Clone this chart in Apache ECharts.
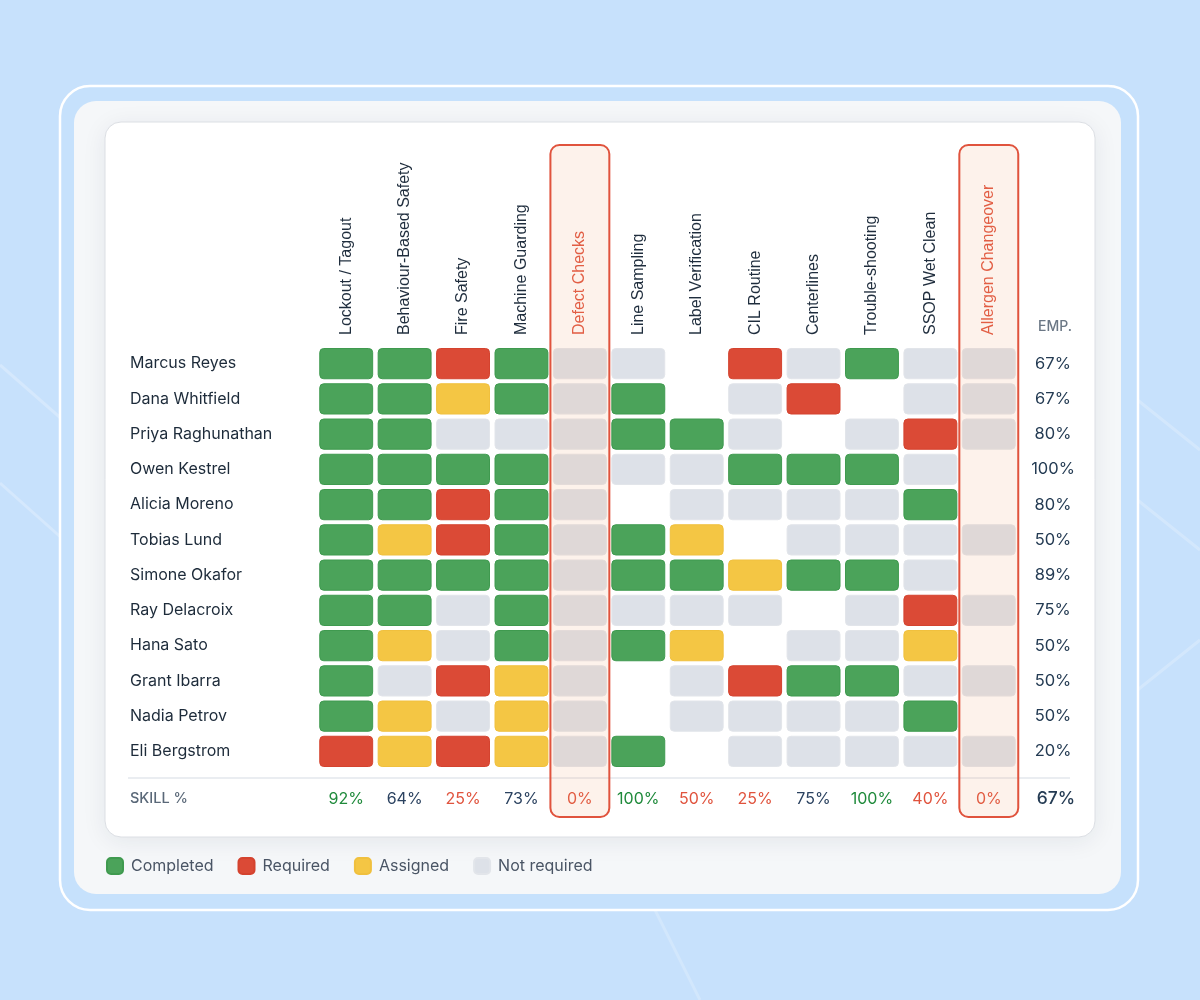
<!DOCTYPE html>
<html>
<head>
<meta charset="utf-8">
<script src="https://cdn.jsdelivr.net/npm/echarts@6/dist/echarts.min.js"></script>
<style>
html,body{margin:0;padding:0;background:#c7e1fc;}
#c{width:1200px;height:1000px;}
</style>
</head>
<body>
<div id="c"></div>
<script>
// ---------- DATA ----------
const skills = ['Lockout / Tagout','Behaviour-Based Safety','Fire Safety','Machine Guarding','Defect Checks','Line Sampling','Label Verification','CIL Routine','Centerlines','Trouble-shooting','SSOP Wet Clean','Allergen Changeover'];
const employees = ['Marcus Reyes','Dana Whitfield','Priya Raghunathan','Owen Kestrel','Alicia Moreno','Tobias Lund','Simone Okafor','Ray Delacroix','Hana Sato','Grant Ibarra','Nadia Petrov','Eli Bergstrom'];
const flaggedSkills = ['Defect Checks','Allergen Changeover'];
// C = completed, R = required, A = assigned, N = not required, '-' = no entry
const matrix = [
  ['C','C','R','C','N','N','-','R','N','C','N','N'],
  ['C','C','A','C','N','C','-','N','R','-','N','N'],
  ['C','C','N','N','N','C','C','N','-','N','R','N'],
  ['C','C','C','C','N','N','N','C','C','C','N','-'],
  ['C','C','R','C','N','-','N','N','N','N','C','-'],
  ['C','A','R','C','N','C','A','-','N','N','N','N'],
  ['C','C','C','C','N','C','C','A','C','C','N','-'],
  ['C','C','N','C','N','N','N','N','-','N','R','N'],
  ['C','A','N','C','N','C','A','-','N','N','A','-'],
  ['C','N','R','A','N','-','N','R','C','C','N','N'],
  ['C','A','N','A','N','-','N','N','N','N','C','-'],
  ['R','A','R','A','N','C','-','N','N','N','N','N']
];
const skillPct = [92,64,25,73,0,100,50,25,75,100,40,0];
const empPct = [67,67,80,100,80,50,89,75,50,50,50,20];
const totalPct = 67;
const statusCodes = ['C','R','A','N'];
const statusNames = ['Completed','Required','Assigned','Not required'];

// ---------- STYLE ----------
const statusFill = {C:'#4ba35a', R:'#db4a36', A:'#f4c644', N:'#dde1e8'};
const statusStroke = {C:'#3f9a4f', R:'#d4432f', A:'#f0c03e', N:'#e2e5ea'};
const FLAG_RED = '#e0533d';
const INK = '#1f2d3d';

const chart = echarts.init(document.getElementById('c'));

function cellRenderer(code){
  return function(params, api){
    const p = api.coord([api.value(0), api.value(1)]);
    const s = api.size([1,1]);
    const w = s[0] - 5.5, h = s[1] - 5;
    return {
      type:'rect',
      shape:{x:p[0]-w/2, y:p[1]-h/2, width:w, height:h, r:4},
      style:{fill:statusFill[code], stroke:statusStroke[code], lineWidth:1}
    };
  };
}

const cellSeries = statusCodes.map((code, k) => {
  const data = [];
  matrix.forEach((row, r) => row.forEach((v, c) => { if (v === code) data.push([c, r]); }));
  return {
    type:'custom', name:statusNames[k], xAxisIndex:0, yAxisIndex:0,
    encode:{x:0, y:1}, z:2,
    itemStyle:{color:statusFill[code], borderColor:statusStroke[code], borderWidth:1},
    renderItem:cellRenderer(code), data:data
  };
});

const highlightSeries = {
  type:'custom', name:'flag', xAxisIndex:0, yAxisIndex:0, z:5, clip:false, silent:true,
  encode:{x:0, y:1},
  renderItem:function(params, api){
    const cs = params.coordSys;
    const p = api.coord([api.value(0), 0]);
    const s = api.size([1,1]);
    const w = s[0] - 5.5 + 6;
    const top = cs.y - 201, bottom = cs.y + cs.height + 48;
    return {
      type:'rect',
      shape:{x:p[0]-w/2, y:top, width:w, height:bottom-top, r:9},
      style:{fill:'rgba(242,165,115,0.14)', stroke:FLAG_RED, lineWidth:2}
    };
  },
  data: flaggedSkills.map(n => [skills.indexOf(n), 0])
};

function pctClass(v){ return v >= 80 ? 'g' : (v >= 60 ? 'n' : 'r'); }

const option = {
  backgroundColor:'#c7e1fc',
  animation:false,
  textStyle:{fontFamily:'Inter'},
  grid:{left:317, right:182, top:346, bottom:231, containLabel:false},
  legend:{
    data:statusNames, left:106, top:857, padding:0, itemWidth:16, itemHeight:16, itemGap:24,
    icon:'roundRect', selectedMode:false,
    textStyle:{fontSize:16, color:'#4a5565', fontFamily:'Inter', padding:[0,0,0,3]}
  },
  xAxis:[
    {
      type:'category', position:'top',
      data: skills.map(n => flaggedSkills.includes(n)
        ? {value:n, textStyle:{color:FLAG_RED}} : n),
      axisLine:{show:false}, axisTick:{show:false}, splitLine:{show:false},
      axisLabel:{rotate:-90, interval:0, margin:11, fontSize:16, color:INK, fontFamily:'Liberation Sans'}
    },
    {
      type:'category', position:'bottom', data:skills,
      axisLine:{show:false}, axisTick:{show:false}, splitLine:{show:false},
      axisLabel:{
        interval:0, margin:22, fontFamily:'Inter',
        formatter:function(v, i){ return '{' + pctClass(skillPct[i]) + '|' + skillPct[i] + '%}'; },
        rich:{
          g:{color:'#1f8a3b', fontSize:16, fontFamily:'Inter'},
          n:{color:'#2b4260', fontSize:16, fontFamily:'Inter'},
          r:{color:FLAG_RED, fontSize:16, fontFamily:'Inter'}
        }
      }
    }
  ],
  yAxis:[
    {
      type:'category', data:employees, inverse:true,
      axisLine:{show:false}, axisTick:{show:false}, splitLine:{show:false},
      axisLabel:{align:'left', margin:187, fontSize:16, color:'#1d2b3a', fontFamily:'Inter'}
    },
    {
      type:'category', data:employees, inverse:true, position:'right',
      axisLine:{show:false}, axisTick:{show:false}, splitLine:{show:false},
      axisLabel:{align:'center', margin:35, fontSize:16.5, color:'#243b53', fontFamily:'Inter',
        formatter:function(v, i){ return empPct[i] + '%'; }}
    }
  ],
  graphic:[
    // background faint diagonal lines
    {type:'line', z:-100, shape:{x1:0,y1:365,x2:120,y2:470}, style:{stroke:'rgba(255,255,255,0.25)', lineWidth:3}},
    {type:'line', z:-100, shape:{x1:0,y1:483,x2:120,y2:590}, style:{stroke:'rgba(255,255,255,0.25)', lineWidth:3}},
    {type:'line', z:-100, shape:{x1:1100,y1:370,x2:1200,y2:450}, style:{stroke:'rgba(255,255,255,0.22)', lineWidth:3}},
    {type:'line', z:-100, shape:{x1:1100,y1:470,x2:1200,y2:550}, style:{stroke:'rgba(255,255,255,0.22)', lineWidth:3}},
    {type:'line', z:-100, shape:{x1:1100,y1:720,x2:1200,y2:640}, style:{stroke:'rgba(255,255,255,0.22)', lineWidth:3}},
    {type:'line', z:-100, shape:{x1:640,y1:880,x2:700,y2:1000}, style:{stroke:'rgba(255,255,255,0.2)', lineWidth:3}},
    // outer ring
    {type:'rect', z:-90, shape:{x:60,y:86,width:1078,height:824,r:30}, style:{fill:'#c6e1fc', stroke:'#ffffff', lineWidth:2.5}},
    // panel
    {type:'rect', z:-80, shape:{x:74,y:101,width:1047,height:793,r:22}, style:{fill:'#f5f7f9'}},
    // card
    {type:'rect', z:-70, shape:{x:105,y:122,width:990,height:715,r:16},
      style:{fill:'#ffffff', stroke:'#dcdfe4', lineWidth:1, shadowBlur:24, shadowColor:'rgba(20,40,70,0.08)', shadowOffsetY:4}},
    // separator
    {type:'line', z:-60, shape:{x1:128,y1:778,x2:1070,y2:778}, style:{stroke:'#e3e7ec', lineWidth:1.5}},
    {type:'text', z:10, x:130, y:799, style:{text:'SKILL %', fill:'#5a6878', font:'500 14.5px Inter', textVerticalAlign:'middle', textAlign:'left'}},
    {type:'text', z:10, x:1055, y:327, style:{text:'EMP.', fill:'#6b7785', font:'500 14px Inter', textVerticalAlign:'middle', textAlign:'center'}},
    {type:'text', z:10, x:1056, y:799, style:{text:totalPct + '%', fill:'#243b53', font:'500 17.5px Inter', textVerticalAlign:'middle', textAlign:'center'}}
  ],
  series: cellSeries.concat([highlightSeries])
};
chart.setOption(option);
</script>
</body>
</html>
